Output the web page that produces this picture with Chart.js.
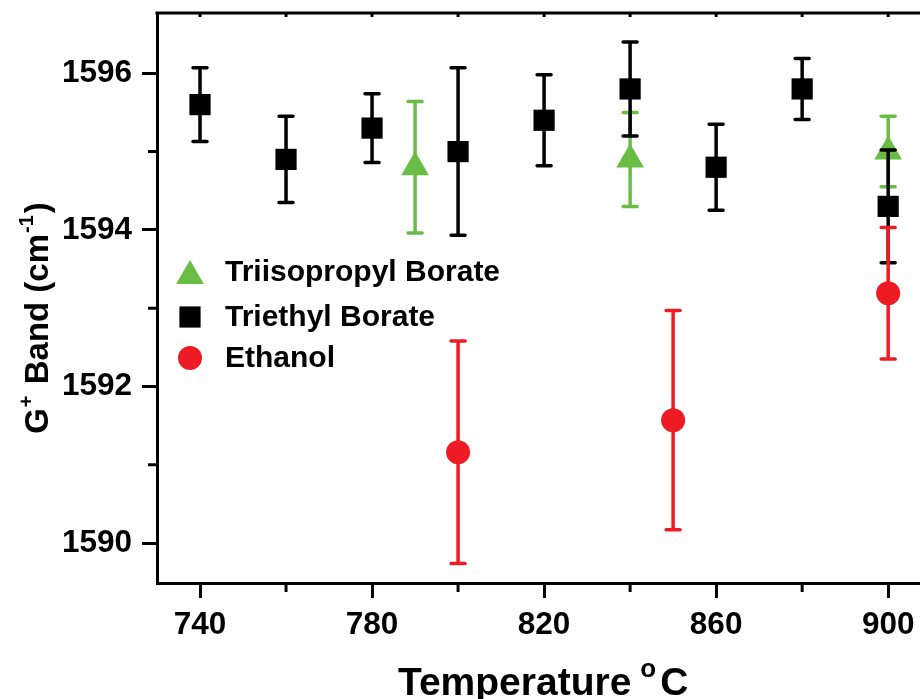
<!DOCTYPE html>
<html lang="en">
<head>
  <meta charset="utf-8">
  <title>G+ Band vs Temperature</title>
  <script src="https://cdn.jsdelivr.net/npm/chart.js"></script>
  <style>
    html, body { margin: 0; padding: 0; background: #fff; }
    canvas { display: block; }
  </style>
</head>
<body>
  <canvas id="grafico" width="920" height="699"></canvas>

  <script>
    // --- data ---
    const xTicks = [740, 780, 820, 860, 900];
    const xMinorTicks = [760, 800, 840, 880];
    const yTicks = [1590, 1592, 1594, 1596];
    const yMinorTicks = [1591, 1593, 1595];

    const tempTriiso = [790, 840, 900];
    const bandTriiso = [1594.8, 1594.9, 1595.0];
    const errTriiso = [0.84, 0.6, 0.45];

    const tempTriethyl = [740, 760, 780, 800, 820, 840, 860, 880, 900];
    const bandTriethyl = [1595.6, 1594.9, 1595.3, 1595.0, 1595.4, 1595.8, 1594.8, 1595.8, 1594.3];
    const errTriethyl = [0.47, 0.55, 0.44, 1.07, 0.58, 0.6, 0.55, 0.39, 0.72];

    const tempEthanol = [800, 850, 900];
    const bandEthanol = [1591.16, 1591.57, 1593.19];
    const errEthanol = [1.42, 1.4, 0.84];

    const FONT = '"Liberation Sans", Arial, sans-serif';
    const GREEN = '#69bd45';
    const RED = '#ed1c24';
    const BLACK = '#000000';

    function toPoints(xs, ys) {
      return xs.map((x, i) => ({ x: x, y: ys[i] }));
    }

    // error bars, drawn just before each dataset's markers
    const errorBars = {
      id: 'errorBars',
      beforeDatasetDraw(chart, args) {
        const ds = chart.data.datasets[args.index];
        const yScale = chart.scales.y;
        const ctx = chart.ctx;
        ctx.save();
        ctx.strokeStyle = ds.backgroundColor;
        ctx.lineWidth = 3.5;
        args.meta.data.forEach((pt, i) => {
          const v = ds.data[i].y;
          const top = yScale.getPixelForValue(v + ds.errors[i]);
          const bot = yScale.getPixelForValue(v - ds.errors[i]);
          ctx.lineCap = 'butt';
          ctx.beginPath();
          ctx.moveTo(pt.x, top);
          ctx.lineTo(pt.x, bot);
          ctx.stroke();
          ctx.lineCap = 'round';
          ctx.beginPath();
          ctx.moveTo(pt.x - 7, top);
          ctx.lineTo(pt.x + 7, top);
          ctx.moveTo(pt.x - 7, bot);
          ctx.lineTo(pt.x + 7, bot);
          ctx.stroke();
        });
        ctx.restore();
      }
    };

    // frame, minor ticks, legend and axis titles
    const decoraciones = {
      id: 'decoraciones',
      afterDraw(chart) {
        const ctx = chart.ctx;
        const a = chart.chartArea;
        const xs = chart.scales.x;
        const ys = chart.scales.y;
        ctx.save();
        ctx.strokeStyle = BLACK;
        ctx.lineWidth = 3;

        // top frame line
        ctx.beginPath();
        ctx.moveTo(a.left - 1.5, a.top);
        ctx.lineTo(a.right, a.top);
        ctx.stroke();

        // minor ticks
        ctx.beginPath();
        xMinorTicks.forEach(v => {
          const px = xs.getPixelForValue(v);
          ctx.moveTo(px, a.bottom);
          ctx.lineTo(px, a.bottom + 9);
        });
        yMinorTicks.forEach(v => {
          const py = ys.getPixelForValue(v);
          ctx.moveTo(a.left, py);
          ctx.lineTo(a.left - 9, py);
        });
        // small inward ticks on the top frame
        xTicks.concat(xMinorTicks).forEach(v => {
          const px = xs.getPixelForValue(v);
          ctx.moveTo(px, a.top);
          ctx.lineTo(px, a.top + 4);
        });
        ctx.stroke();

        // legend inside the plot
        const rows = [272, 317, 358];
        ctx.textBaseline = 'middle';
        ctx.textAlign = 'left';
        ctx.font = 'bold 30px ' + FONT;
        chart.data.datasets.forEach((ds, r) => {
          ctx.fillStyle = ds.backgroundColor;
          ctx.strokeStyle = ds.backgroundColor;
          Chart.helpers.drawPoint(ctx, {
            pointStyle: ds.pointStyle,
            radius: ds.pointRadius,
            rotation: 0,
            borderWidth: 0
          }, 190, rows[r] + (ds.pointStyle === 'triangle' ? 4 : 0));
          ctx.fillStyle = BLACK;
          ctx.fillText(ds.label, 225, rows[r] + 1);
        });

        // x axis title: Temperature °C
        ctx.fillStyle = BLACK;
        ctx.textBaseline = 'alphabetic';
        ctx.font = 'bold 39px ' + FONT;
        const t1 = 'Temperature';
        const w1 = ctx.measureText(t1).width;
        const x0 = 398;
        const yb = 695;
        ctx.fillText(t1, x0, yb);
        ctx.font = 'bold 26px ' + FONT;
        const wo = ctx.measureText('o').width;
        ctx.fillText('o', x0 + w1 + 9, 677);
        ctx.font = 'bold 39px ' + FONT;
        ctx.fillText('C', x0 + w1 + 9 + wo + 4, yb);

        // y axis title: G+ Band (cm-1)
        ctx.translate(48, 318);
        ctx.rotate(-Math.PI / 2);
        const parts = [
          ['G', false], ['+', true], [' Band (cm', false], ['-1', true], [')', false]
        ];
        let total = 0;
        parts.forEach(p => {
          ctx.font = (p[1] ? 'bold 20px ' : 'bold 33px ') + FONT;
          total += ctx.measureText(p[0]).width + (p[1] ? 3 : 0);
        });
        let cx = -total / 2;
        parts.forEach(p => {
          ctx.font = (p[1] ? 'bold 20px ' : 'bold 33px ') + FONT;
          ctx.fillText(p[0], cx + (p[1] ? 1 : 0), p[1] ? -15 : 0);
          cx += ctx.measureText(p[0]).width + (p[1] ? 3 : 0);
        });

        ctx.restore();
      }
    };

    const ctx = document.getElementById('grafico').getContext('2d');

    new Chart(ctx, {
      type: 'scatter',
      data: {
        datasets: [
          {
            label: 'Triisopropyl Borate',
            data: toPoints(tempTriiso, bandTriiso),
            errors: errTriiso,
            backgroundColor: GREEN,
            borderColor: GREEN,
            borderWidth: 0,
            pointStyle: 'triangle',
            pointRadius: 16,
            order: 3
          },
          {
            label: 'Triethyl Borate',
            data: toPoints(tempTriethyl, bandTriethyl),
            errors: errTriethyl,
            backgroundColor: BLACK,
            borderColor: BLACK,
            borderWidth: 0,
            pointStyle: 'rect',
            pointRadius: 15,
            order: 2
          },
          {
            label: 'Ethanol',
            data: toPoints(tempEthanol, bandEthanol),
            errors: errEthanol,
            backgroundColor: RED,
            borderColor: RED,
            borderWidth: 0,
            pointStyle: 'circle',
            pointRadius: 12,
            order: 1
          }
        ]
      },
      options: {
        responsive: false,
        devicePixelRatio: 1,
        animation: false,
        layout: { autoPadding: false, padding: { top: 13, right: 0, left: 0, bottom: 0 } },
        plugins: {
          legend: { display: false },
          tooltip: { enabled: false }
        },
        scales: {
          x: {
            type: 'linear',
            min: 730,
            max: 907.4,
            afterFit: s => { s.height = 116; s.paddingLeft = 0; s.paddingRight = 0; },
            afterBuildTicks: s => { s.ticks = xTicks.map(v => ({ value: v })); },
            border: { display: true, color: BLACK, width: 3 },
            grid: { drawOnChartArea: false, color: BLACK, tickColor: BLACK, tickWidth: 3, tickLength: 15 },
            ticks: {
              color: BLACK,
              padding: 8,
              maxRotation: 0,
              callback: v => String(v),
              font: { family: FONT, size: 31.5, weight: 'bold' }
            }
          },
          y: {
            min: 1589.49,
            max: 1596.77,
            afterFit: s => { s.width = 157; s.paddingTop = 0; s.paddingBottom = 0; },
            afterBuildTicks: s => { s.ticks = yTicks.map(v => ({ value: v })); },
            border: { display: true, color: BLACK, width: 3 },
            grid: { drawOnChartArea: false, color: BLACK, tickColor: BLACK, tickWidth: 3, tickLength: 15 },
            ticks: {
              color: BLACK,
              padding: 10,
              callback: v => String(v),
              font: { family: FONT, size: 31.5, weight: 'bold' }
            }
          }
        }
      },
      plugins: [errorBars, decoraciones]
    });
  </script>
</body>
</html>
